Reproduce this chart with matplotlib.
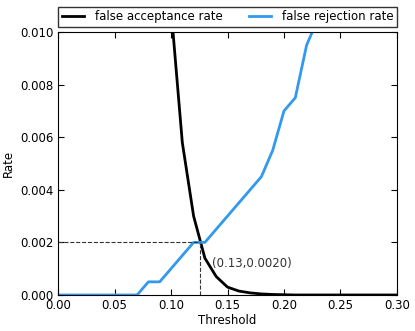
import matplotlib
matplotlib.use("Agg")
import matplotlib.pyplot as plt

# threshold grid and rates
threshold = [0.00, 0.01, 0.02, 0.03, 0.04, 0.05, 0.06, 0.07, 0.08, 0.09, 0.10,
             0.11, 0.12, 0.13, 0.14, 0.15, 0.16, 0.17, 0.18, 0.19, 0.20,
             0.21, 0.22, 0.23, 0.24, 0.25, 0.26, 0.27, 0.28, 0.29, 0.30]
far = [1.0, 0.8, 0.5, 0.3, 0.15, 0.08, 0.04, 0.025, 0.018, 0.014, 0.0109,
       0.0058, 0.0030, 0.0014, 0.0007, 0.0003, 0.00015, 0.00008, 0.00004, 0.00002, 0.00001,
       0.0, 0.0, 0.0, 0.0, 0.0, 0.0, 0.0, 0.0, 0.0, 0.0]
frr = [0.0, 0.0, 0.0, 0.0, 0.0, 0.0, 0.0, 0.0, 0.0005, 0.0005, 0.001,
       0.0015, 0.002, 0.002, 0.0025, 0.003, 0.0035, 0.004, 0.0045, 0.0055, 0.007,
       0.0075, 0.0095, 0.0105, 0.012, 0.014, 0.016, 0.019, 0.022, 0.026, 0.03]
eer_x = 0.1255
eer_y = 0.0020

plt.rcParams['font.family'] = ['DejaVu Sans']
plt.rcParams['font.size'] = 8.5

fig = plt.figure(figsize=(4.15, 3.31), dpi=100)
ax = fig.add_axes([0.1398, 0.1088, 0.8168, 0.7945])

ax.plot(threshold, far, color='black', lw=2, label='false acceptance rate')
ax.plot(threshold, frr, color='#3399ee', lw=2, label='false rejection rate')

ax.plot([0, eer_x], [eer_y, eer_y], color='#333333', ls='--', lw=0.8)
ax.plot([eer_x, eer_x], [0, eer_y], color='#333333', ls='--', lw=0.8)
ax.text(eer_x + 0.0105, 0.00118, '(%.2f,%.4f)' % (0.13, eer_y),
        color='#333333', va='center', ha='left', fontsize=8.5)

ax.set_xlim(0, 0.30)
ax.set_ylim(0, 0.010)
ax.set_xticks([0.00, 0.05, 0.10, 0.15, 0.20, 0.25, 0.30])
ax.set_yticks([0.000, 0.002, 0.004, 0.006, 0.008, 0.010])
ax.set_xticklabels(['%.2f' % t for t in ax.get_xticks()])
ax.set_yticklabels(['%.3f' % t for t in ax.get_yticks()])
ax.tick_params(direction='in', top=True, right=True, length=4, pad=3)
ax.set_xlabel('Threshold', labelpad=1)
ax.set_ylabel('Rate', labelpad=4)

leg = ax.legend(bbox_to_anchor=(0., 1.02, 1., 0.102), loc='lower left', ncol=2,
                mode='expand', borderaxespad=0., fancybox=False, handlelength=1.9,
                handletextpad=0.9, fontsize=8.5, borderpad=0.3)
leg.get_frame().set_edgecolor('black')

fig.savefig('out.png', dpi=100)
